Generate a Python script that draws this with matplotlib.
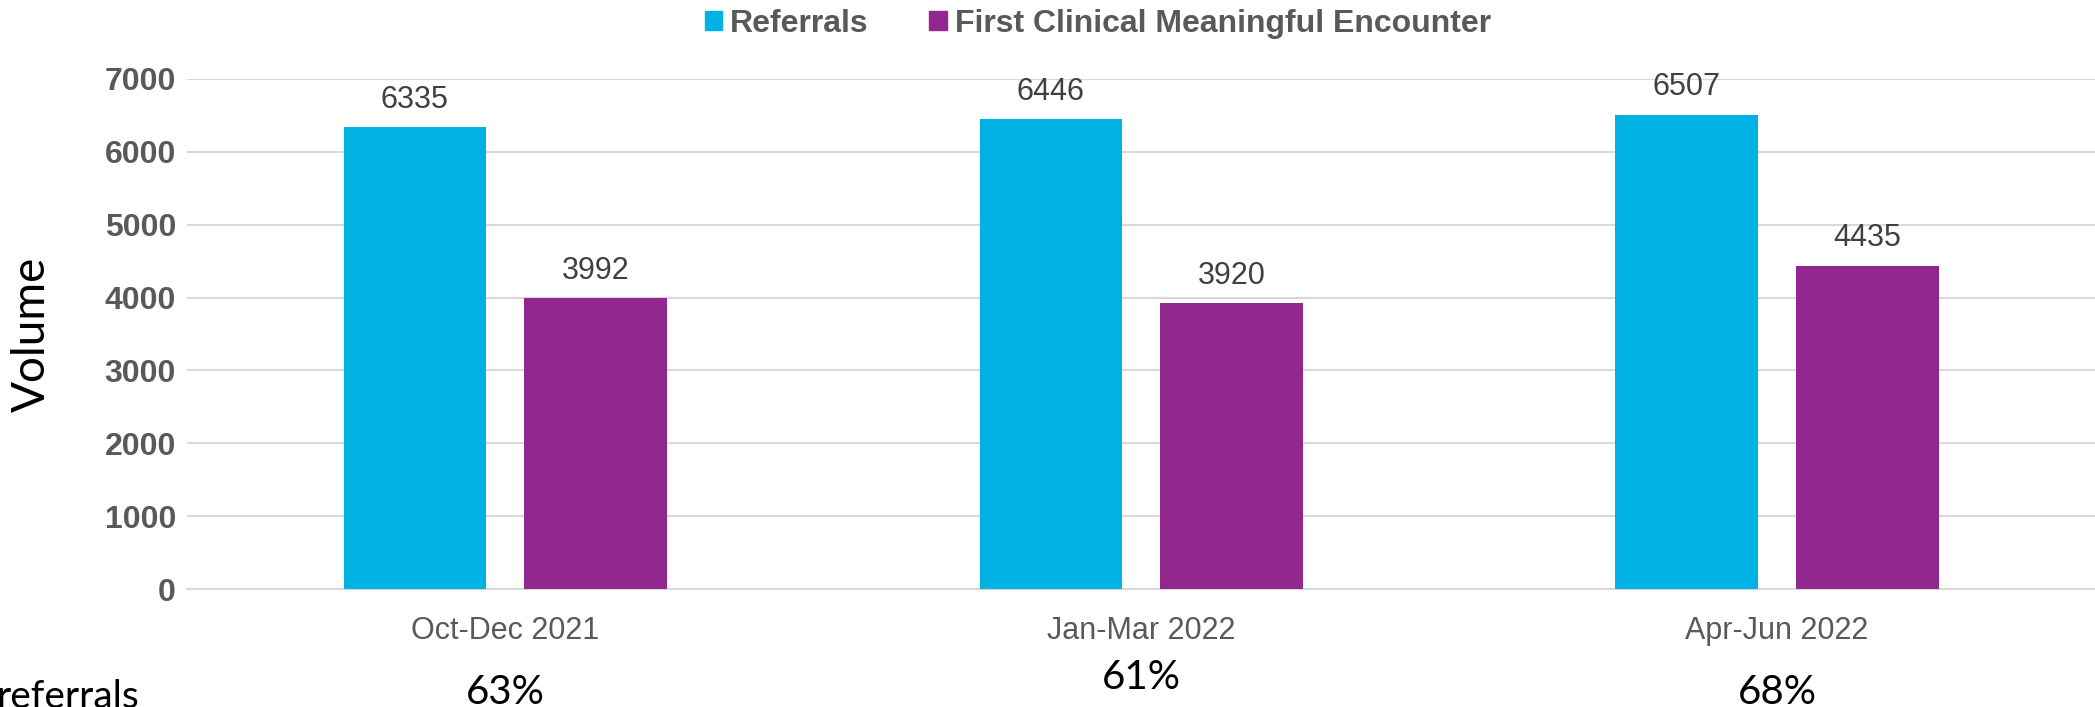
import matplotlib
matplotlib.use("Agg")
import matplotlib.pyplot as plt
import matplotlib.transforms as mtransforms
from matplotlib.patches import Patch
import numpy as np

periods = ['Oct-Dec 2021', 'Jan-Mar 2022', 'Apr-Jun 2022']
referrals = [6335, 6446, 6507]
encounters = [3992, 3920, 4435]
series_names = ['Referrals', 'First Clinical Meaningful Encounter']
yticks = [0, 1000, 2000, 3000, 4000, 5000, 6000, 7000]

cyan = '#00B2E3'
purple = '#92278F'

fig = plt.figure(figsize=(20.95, 7.07), dpi=100)
ax = fig.add_axes([0.0893, 0.1669, 0.9107, 0.7214])

x = np.arange(len(periods))
w = 0.224
off = 0.142
b1 = ax.bar(x - off, referrals, w, color=cyan, zorder=3)
b2 = ax.bar(x + off, encounters, w, color=purple, zorder=3)

for bars in (b1, b2):
    for rect in bars:
        ax.annotate(f'{int(rect.get_height())}',
                    (rect.get_x() + rect.get_width() / 2, rect.get_height()),
                    xytext=(0, 14), textcoords='offset points',
                    ha='center', va='baseline', fontsize=22,
                    family='Liberation Sans', color='#404040')

ax.set_xlim(-0.5, 2.5)
ax.set_ylim(0, 7000)
ax.set_yticks(yticks)
ax.set_yticklabels([str(t) for t in yticks], fontsize=23, fontweight='bold',
                   family='Liberation Sans', color='#595959')
ax.tick_params(axis='y', length=0, pad=8)
ax.set_xticks([])
ax.grid(axis='y', color='#D9D9D9', linewidth=1.5, zorder=0)
for s in ['top', 'right', 'left']:
    ax.spines[s].set_visible(False)
ax.spines['bottom'].set_color('#D9D9D9')
ax.spines['bottom'].set_linewidth(1.5)

# category labels and conversion percentages under the axis
trans = mtransforms.blended_transform_factory(ax.transData, fig.transFigure)
pct_y = [0.0045, 0.0255, 0.0045]
for i, p in enumerate(periods):
    ax.text(i, 0.0962, p, transform=trans, ha='center', va='baseline',
            fontsize=22, family='Liberation Sans', color='#595959')
    pct = round(100 * encounters[i] / referrals[i])
    ax.text(i, pct_y[i], f'{pct}%', transform=trans, ha='center', va='baseline',
            fontsize=29, family='Lato', color='black')

fig.text(0.0152, 0.5276, 'Volume', rotation=90, ha='center', va='center',
         fontsize=33, family='Lato', color='black')
fig.text(-0.002, -0.002, 'referrals', ha='left', va='baseline',
         fontsize=28, family='Lato', color='black')

handles = [Patch(color=cyan), Patch(color=purple)]
leg = fig.legend(handles, series_names, loc='center', bbox_to_anchor=(0.524, 0.966),
                 ncol=2, frameon=False, handlelength=0.55, handleheight=0.55,
                 handletextpad=0.25, columnspacing=1.9,
                 prop={'family': 'Liberation Sans', 'weight': 'bold', 'size': 23})
for t in leg.get_texts():
    t.set_color('#595959')

fig.savefig('out.png', dpi=100)
